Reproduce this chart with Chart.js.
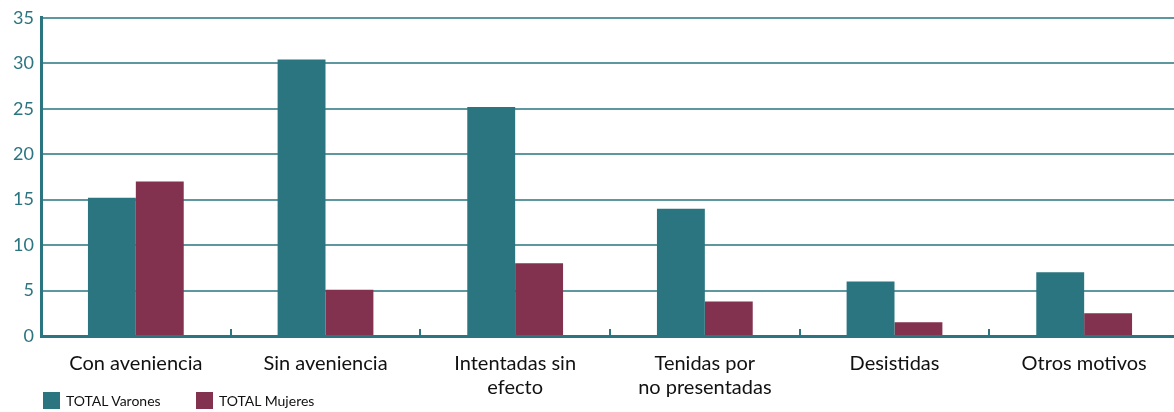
<!DOCTYPE html>
<html>
<head>
<meta charset="utf-8">
<script src="https://cdn.jsdelivr.net/npm/chart.js@4.4.1/dist/chart.umd.min.js"></script>
<style>
    html, body { margin: 0; padding: 0; background: #fff; }
    #wrap { width: 1174px; height: 412px; position: relative; overflow: hidden; }
    #inner { width: 1179px; height: 412px; position: absolute; left: 0; top: 0; }
    #legend { position: absolute; left: 43px; top: 392px; font-family: Lato, sans-serif; font-size: 14px; color: #111; }
    #legend span.item { position: absolute; white-space: nowrap; line-height: 17px; }
    #legend span.box { display: inline-block; width: 17px; height: 17px; vertical-align: top; margin-right: 6px; }
</style>
</head>
<body>
<div id="wrap">
    <div id="inner"><canvas id="chart"></canvas></div>
    <div id="legend"></div>
</div>
<script>
const categories = [
    ['Con aveniencia'],
    ['Sin aveniencia'],
    ['Intentadas sin', 'efecto'],
    ['Tenidas por', 'no presentadas'],
    ['Desistidas'],
    ['Otros motivos']
];
const varones = [15.2, 30.4, 25.2, 14, 6, 7];
const mujeres = [17, 5.1, 8, 3.8, 1.5, 2.5];
const seriesNames = ['TOTAL Varones', 'TOTAL Mujeres'];

const teal = '#2a7580';
const maroon = '#82314f';
const gridTeal = '#5f979f';

// short upward ticks between categories on the x axis
const categoryTicks = {
    id: 'categoryTicks',
    afterDatasetsDraw(chart) {
        const x = chart.scales.x;
        const ctx = chart.ctx;
        const bottom = chart.chartArea.bottom;
        const step = (x.right - x.left) / categories.length;
        ctx.save();
        ctx.strokeStyle = teal;
        ctx.lineWidth = 2;
        for (let i = 1; i < categories.length; i++) {
            const px = Math.round(x.left + step * i);
            ctx.beginPath();
            ctx.moveTo(px, bottom);
            ctx.lineTo(px, bottom - 7);
            ctx.stroke();
        }
        ctx.restore();
    }
};

const chart = new Chart(document.getElementById('chart'), {
    type: 'bar',
    data: {
        labels: categories,
        datasets: [
            { label: seriesNames[0], data: varones, backgroundColor: teal },
            { label: seriesNames[1], data: mujeres, backgroundColor: maroon }
        ]
    },
    options: {
        responsive: true,
        maintainAspectRatio: false,
        animation: false,
        datasets: { bar: { barPercentage: 1, categoryPercentage: 0.505 } },
        layout: { padding: { top: 11, right: 0, left: 0, bottom: 0 } },
        plugins: {
            tooltip: { enabled: false },
            legend: { display: false }
        },
        scales: {
            x: {
                grid: { display: false },
                border: { color: teal, width: 3 },
                ticks: {
                    color: '#111',
                    font: { family: 'Lato', size: 20 },
                    maxRotation: 0,
                    padding: 8
                },
                afterFit(scale) { scale.height = 76; }
            },
            y: {
                min: 0,
                max: 35,
                ticks: {
                    stepSize: 5,
                    color: teal,
                    font: { family: 'Lato', size: 18 },
                    padding: 7
                },
                grid: { color: gridTeal, lineWidth: 2, tickLength: 0 },
                border: { color: teal, width: 3 },
                afterFit(scale) { scale.width = 41; }
            }
        }
    },
    plugins: [categoryTicks]
});

// legend built from the datasets
const legend = document.getElementById('legend');
const legendX = [0, 153];
chart.data.datasets.forEach((ds, i) => {
    const item = document.createElement('span');
    item.className = 'item';
    item.style.left = legendX[i] + 'px';
    item.innerHTML = `<span class="box" style="background:${ds.backgroundColor}"></span>${ds.label}`;
    legend.appendChild(item);
});
</script>
</body>
</html>
